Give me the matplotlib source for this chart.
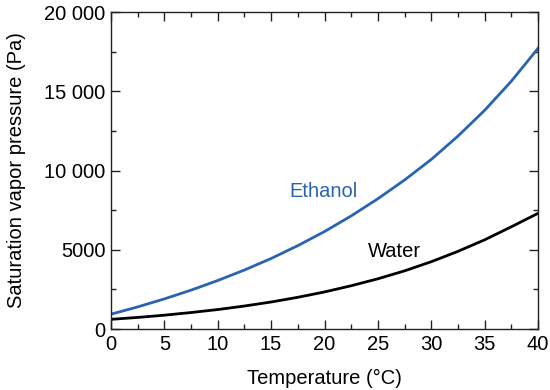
import matplotlib
matplotlib.use("Agg")
import matplotlib.pyplot as plt
from matplotlib.ticker import MultipleLocator

plt.rcParams['font.family'] = ['Liberation Sans', 'DejaVu Sans']

temperature = [0, 2.5, 5, 7.5, 10, 12.5, 15, 17.5, 20, 22.5, 25, 27.5, 30, 32.5, 35, 37.5, 40]
ethanol = [935, 1395, 1900, 2453, 3060, 3723, 4450, 5261, 6150, 7137, 8220, 9403, 10700, 12173, 13800, 15638, 17710]
water = [611, 730, 872, 1040, 1228, 1450, 1705, 2000, 2339, 2730, 3169, 3670, 4246, 4900, 5628, 6450, 7300]

y_ticks = [0, 5000, 10000, 15000, 20000]
y_tick_labels = ['0', '5000', '10 000', '15 000', '20 000']
x_ticks = [0, 5, 10, 15, 20, 25, 30, 35, 40]

fs = 14.5

fig = plt.figure(figsize=(5.5, 3.9), dpi=100)
ax = fig.add_axes([0.2018, 0.1564, 0.7764, 0.8126])

ax.plot(temperature, ethanol, color='#2a63b1', lw=2.0, solid_joinstyle='round')
ax.plot(temperature, water, color='#000000', lw=2.0, solid_joinstyle='round')

ax.text(16.7, 8660, 'Ethanol', color='#2a63b1', fontsize=fs, va='center', ha='left')
ax.text(24.1, 4880, 'Water', color='black', fontsize=fs, va='center', ha='left')

ax.set_xlim(0, 40)
ax.set_ylim(0, 20000)
ax.set_xticks(x_ticks)
ax.set_xticklabels([str(t) for t in x_ticks])
ax.set_yticks(y_ticks)
ax.set_yticklabels(y_tick_labels)
ax.xaxis.set_minor_locator(MultipleLocator(2.5))
ax.yaxis.set_minor_locator(MultipleLocator(2500))

ax.tick_params(which='both', direction='in', top=True, right=True, color='#222222', labelsize=fs, pad=4)
ax.tick_params(which='major', length=6.5, width=1.0)
ax.tick_params(which='minor', length=3.5, width=1.0)
for s in ax.spines.values():
    s.set_linewidth(1.0)
    s.set_color('#222222')

ax.set_xlabel('Temperature (°C)', fontsize=fs, labelpad=11)
ax.set_ylabel('Saturation vapor pressure (Pa)', fontsize=14.5, labelpad=13)

fig.savefig('out.png', dpi=100)
